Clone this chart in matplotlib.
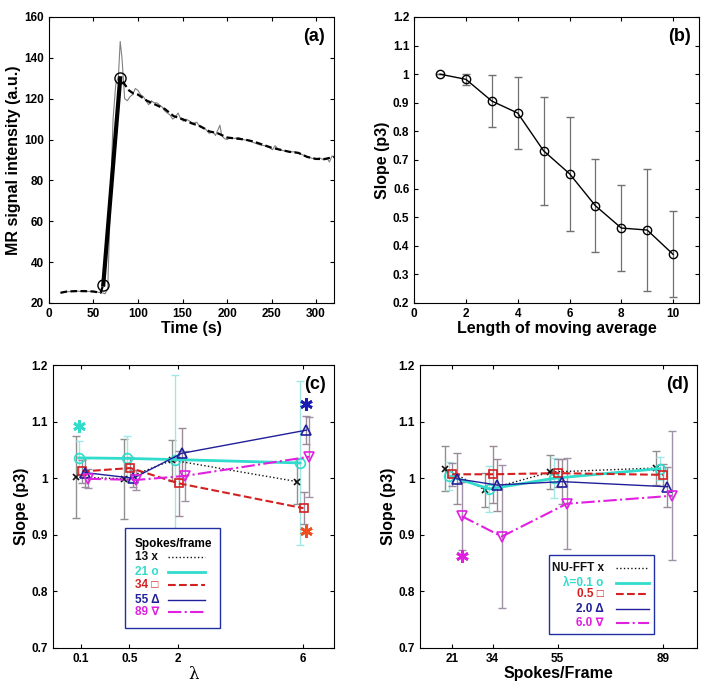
import matplotlib
matplotlib.use('Agg')
import matplotlib.pyplot as plt
from matplotlib.patches import Rectangle
from matplotlib.lines import Line2D
from matplotlib.ticker import FormatStrFormatter

plt.rcParams['font.family'] = ['Liberation Sans', 'DejaVu Sans']
plt.rcParams['font.weight'] = 'bold'

# ---- panel (a): signal curves
t_raw = [13, 20, 30, 40, 50, 56, 60, 63, 66, 69, 72, 75, 78, 80, 82, 85, 88, 91, 94, 97,
         100, 103, 106, 109, 112, 115, 118, 121, 124, 127, 130, 133, 136, 139, 142, 145, 148, 151, 154, 158,
         162, 166, 170, 175, 180, 184, 187, 190, 192, 194, 197, 200, 204, 208, 213, 218, 224, 230, 236, 242,
         248, 251, 254, 258, 264, 270, 276, 282, 288, 294, 299, 304, 309, 313, 315, 318, 320]
s_raw = [25, 25.5, 25.8, 25.6, 25.7, 25.2, 25, 24.5, 27, 70, 110, 127, 131, 148, 140, 120, 119, 121, 122, 125,
         124, 122, 121, 119, 117, 119, 118, 118, 117, 116, 114, 113, 112, 110, 111, 113, 110, 109, 110, 109,
         108, 108.5, 106, 105.5, 103, 104, 102, 105, 107, 102, 100.5, 100, 101, 100.5, 101, 100, 99.5, 98.5, 97.5, 97,
         96, 95, 97, 95, 94.5, 94, 94, 93, 92, 91, 90.5, 91, 90, 90.5, 89, 92, 91.5]
t_smooth = [13, 20, 30, 40, 50, 58, 61, 80, 85, 90, 95, 100, 110, 120, 130, 140, 150, 160, 170, 180,
            190, 200, 210, 220, 230, 240, 250, 260, 270, 280, 290, 300, 310, 320]
s_smooth = [25, 25.6, 25.8, 25.8, 25.6, 25, 29, 130, 127, 124, 122.5, 122, 119, 117, 115, 111.5, 110, 108, 106.5, 104,
            103, 101, 100.5, 100, 99, 97.5, 96, 95, 94, 93.5, 91.5, 90.5, 90.5, 91.5]
t_fit = [61, 80]
s_fit = [29, 130]

# ---- panel (b): slope vs moving average length
ma_len = [1, 2, 3, 4, 5, 6, 7, 8, 9, 10]
ma_slope = [1.0, 0.982, 0.906, 0.864, 0.732, 0.652, 0.540, 0.462, 0.455, 0.370]
ma_err = [0.0, 0.02, 0.09, 0.125, 0.188, 0.2, 0.162, 0.149, 0.212, 0.15]

# ---- panel (c): slope vs lambda
lam_labels = ['0.1', '0.5', '2', '6']
lam_pos = [1, 2, 3, 5.58]
c_names = ['13 x', '21 o', '34 \u25a1', '55 \u0394', '89 \u2207']
c_vals = [[1.002, 0.999, 1.032, 0.994],
          [1.036, 1.035, 1.033, 1.027],
          [1.012, 1.018, 0.991, 0.947],
          [1.010, 1.000, 1.044, 1.085],
          [0.999, 0.997, 1.004, 1.038]]
c_errs = [[0.072, 0.071, 0.036, 0.04],
          [0.03, 0.04, 0.15, 0.145],
          [0.02, 0.02, 0.057, 0.028],
          [0.025, 0.015, 0.045, 0.025],
          [0.017, 0.017, 0.044, 0.071]]

# ---- panel (d): slope vs spokes/frame
spokes = [21, 34, 55, 89]
d_names = ['NU-FFT x', '\u03bb=0.1 o', '0.5 \u25a1', '2.0 \u0394', '6.0 \u2207']
d_vals = [[1.017, 0.979, 1.011, 1.018],
          [1.004, 0.981, 1.000, 1.017],
          [1.007, 1.007, 1.009, 1.006],
          [0.999, 0.988, 0.994, 0.985],
          [0.933, 0.897, 0.955, 0.969]]
d_errs = [[0.04, 0.03, 0.03, 0.03],
          [0.025, 0.04, 0.035, 0.02],
          [0.02, 0.05, 0.025, 0.02],
          [0.045, 0.046, 0.04, 0.035],
          [0.06, 0.127, 0.08, 0.114]]

colors = ['#111111', '#30dccc', '#d42020', '#20209a', '#e020e0']
ebar_colors = ['#909090', '#a0e8e8', '#9a8a9a', '#9a8a9a', '#a090a8']
styles = [':', '-', '--', '-', '-.']
widths = [1.0, 2.0, 1.5, 1.0, 1.5]
markers = ['x', 'o', 's', '^', 'v']
msizes = [5, 7, 6, 7, 7]
asterisk = (6, 2, 0)

fig = plt.figure(figsize=(7.14, 6.9), dpi=100)
ax_a = fig.add_axes([0.0686, 0.5609, 0.399, 0.4145])
ax_b = fig.add_axes([0.580, 0.5609, 0.399, 0.4145])
ax_c = fig.add_axes([0.0742, 0.0609, 0.3936, 0.410])
ax_d = fig.add_axes([0.588, 0.0609, 0.388, 0.410])

for ax in (ax_a, ax_b, ax_c, ax_d):
    ax.tick_params(direction='in', top=True, right=True, labelsize=8.5, length=3)
    for sp in ax.spines.values():
        sp.set_linewidth(0.8)

lab_kw = dict(fontsize=11.5, fontweight='bold')
tag_kw = dict(fontsize=13, fontweight='bold', ha='right', va='top')

# (a)
ax_a.plot(t_raw, s_raw, color='#808080', lw=0.8)
ax_a.plot(t_smooth, s_smooth, color='black', lw=1.6, ls=(0, (3, 1.5)))
ax_a.plot(t_fit, s_fit, color='black', lw=3)
ax_a.plot(t_fit, s_fit, 'o', mfc='none', mec='black', ms=8, mew=1)
ax_a.set_xlim(0, 320)
ax_a.set_ylim(20, 160)
ax_a.set_xticks(range(0, 301, 50))
ax_a.set_yticks(range(20, 161, 20))
ax_a.set_xlabel('Time (s)', labelpad=1, **lab_kw)
ax_a.set_ylabel('MR signal intensity (a.u.)', labelpad=2, **lab_kw)
ax_a.text(0.97, 0.96, '(a)', transform=ax_a.transAxes, **tag_kw)

# (b)
ax_b.errorbar(ma_len, ma_slope, yerr=ma_err, color='black', ecolor='#707070',
              elinewidth=0.9, capsize=3, lw=1, marker='o', mfc='none', ms=6)
ax_b.set_xlim(0, 11)
ax_b.set_ylim(0.2, 1.2)
ax_b.set_xticks(range(0, 11, 2))
ax_b.set_yticks([0.2, 0.3, 0.4, 0.5, 0.6, 0.7, 0.8, 0.9, 1.0, 1.1, 1.2])
ax_b.yaxis.set_major_formatter(FormatStrFormatter('%g'))
ax_b.set_xlabel('Length of moving average', labelpad=1, **lab_kw)
ax_b.set_ylabel('Slope (p3)', labelpad=2, **lab_kw)
ax_b.text(0.97, 0.96, '(b)', transform=ax_b.transAxes, **tag_kw)

# (c)
c_offsets = [-0.11, -0.05, 0.02, 0.08, 0.14]
for i in range(5):
    xs = [p + c_offsets[i] for p in lam_pos]
    ax_c.errorbar(xs, c_vals[i], yerr=c_errs[i], fmt='none', ecolor=ebar_colors[i],
                  elinewidth=1, capsize=3)
for i in range(5):
    xs = [p + c_offsets[i] for p in lam_pos]
    ax_c.plot(xs, c_vals[i], color=colors[i], ls=styles[i], lw=widths[i], marker=markers[i],
              mfc='none', mec=colors[i], ms=msizes[i], mew=1.2)
ax_c.plot(lam_pos[0] - 0.05, 1.092, marker=asterisk, color=colors[1], ms=9, mew=2, ls='none')
ax_c.plot(lam_pos[3] + 0.08, 1.132, marker=asterisk, color='#1c1cb0', ms=9, mew=2, ls='none')
ax_c.plot(lam_pos[3] + 0.08, 0.906, marker=asterisk, color='#f05020', ms=9, mew=2, ls='none')
ax_c.set_xlim(0.42, 6.23)
ax_c.set_ylim(0.7, 1.2)
ax_c.set_xticks(lam_pos)
ax_c.set_xticklabels(lam_labels)
ax_c.set_yticks([0.7, 0.8, 0.9, 1.0, 1.1, 1.2])
ax_c.yaxis.set_major_formatter(FormatStrFormatter('%g'))
ax_c.set_xlabel('\u03bb', fontsize=12, fontweight='normal', family='DejaVu Serif', labelpad=1)
ax_c.set_ylabel('Slope (p3)', labelpad=2, **lab_kw)
ax_c.text(0.97, 0.96, '(c)', transform=ax_c.transAxes, **tag_kw)

# legend (c), drawn by hand
ax_c.add_patch(Rectangle((0.256, 0.071), 0.338, 0.353, transform=ax_c.transAxes,
                         fc='white', ec='#2030a0', lw=1, zorder=5))
ax_c.text(0.292, 0.3675, 'Spokes/frame', transform=ax_c.transAxes, fontsize=8.5,
          fontweight='bold', va='center', zorder=6)
c_rows = [0.3226, 0.2675, 0.2226, 0.1696, 0.1283]
for i in range(5):
    ax_c.text(0.292, c_rows[i], c_names[i], transform=ax_c.transAxes, fontsize=8.5,
              fontweight='bold', color=colors[i], va='center', zorder=6)
    ax_c.add_line(Line2D([0.408, 0.541], [c_rows[i], c_rows[i]], transform=ax_c.transAxes,
                         color=colors[i], ls=styles[i], lw=widths[i], zorder=6))

# (d)
d_offsets = [-2.3, -1.0, 0.0, 1.5, 3.0]
for i in range(5):
    xs = [s + d_offsets[i] for s in spokes]
    ax_d.errorbar(xs, d_vals[i], yerr=d_errs[i], fmt='none', ecolor=ebar_colors[i],
                  elinewidth=1, capsize=3)
for i in range(5):
    xs = [s + d_offsets[i] for s in spokes]
    ax_d.plot(xs, d_vals[i], color=colors[i], ls=styles[i], lw=widths[i], marker=markers[i],
              mfc='none', mec=colors[i], ms=msizes[i], mew=1.2)
ax_d.plot(spokes[0] + 3.0, 0.862, marker=asterisk, color=colors[4], ms=9, mew=2, ls='none')
ax_d.set_xlim(10.5, 100)
ax_d.set_ylim(0.7, 1.2)
ax_d.set_xticks(spokes)
ax_d.set_yticks([0.7, 0.8, 0.9, 1.0, 1.1, 1.2])
ax_d.yaxis.set_major_formatter(FormatStrFormatter('%g'))
ax_d.set_xlabel('Spokes/Frame', labelpad=1, **lab_kw)
ax_d.set_ylabel('Slope (p3)', labelpad=2, **lab_kw)
ax_d.text(0.97, 0.96, '(d)', transform=ax_d.transAxes, **tag_kw)

ax_d.add_patch(Rectangle((0.468, 0.048), 0.379, 0.2806, transform=ax_d.transAxes,
                         fc='white', ec='#2030a0', lw=1, zorder=5))
d_rows = [0.2816, 0.2286, 0.1898, 0.1367, 0.0894]
for i in range(5):
    ax_d.text(0.663, d_rows[i], d_names[i], transform=ax_d.transAxes, fontsize=8.5,
              fontweight='bold', color=colors[i], va='center', ha='right', zorder=6)
    ax_d.add_line(Line2D([0.707, 0.828], [d_rows[i], d_rows[i]], transform=ax_d.transAxes,
                         color=colors[i], ls=styles[i], lw=widths[i], zorder=6))

for ax in (ax_a, ax_b, ax_c, ax_d):
    for lab in ax.get_xticklabels() + ax.get_yticklabels():
        lab.set_fontweight('bold')

fig.savefig('out.png', dpi=100)
